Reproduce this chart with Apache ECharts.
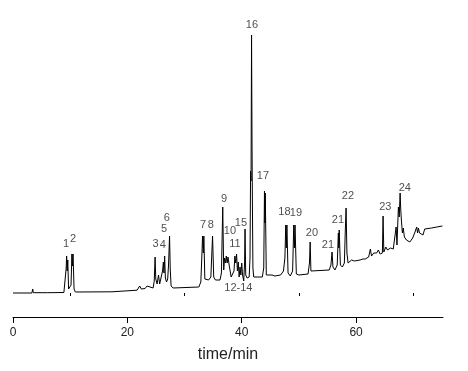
<!DOCTYPE html>
<html><head><meta charset="utf-8">
<script src="https://cdn.jsdelivr.net/npm/echarts@6/dist/echarts.min.js"></script>
<style>html,body{margin:0;padding:0;background:#fff}#c{width:468px;height:371px}</style>
</head><body><div id="c"></div>
<script>
// Retention time (min) and detector signal (arbitrary units)
const retentionTime = [
0,3.3,3.4,3.45,3.55,6.0,6.05,6.15,8.9,9.15,9.3,9.38,9.48,9.58,9.72,9.95,10.15,10.3,10.4,10.5,10.68,10.9,
17.3,17.45,21.7,21.85,22.15,22.45,23.1,23.45,23.75,24.5,24.7,24.85,24.97,25.2,25.45,25.65,25.9,26.15,26.3,26.4,26.52,26.65,26.85,27.05,27.2,27.38,27.5,27.65,28.0,
32.5,32.85,33.05,33.15,33.28,33.38,33.55,33.8,34.2,34.6,34.9,35.1,35.4,36.2,36.45,36.68,36.85,37.0,37.15,37.3,37.45,37.6,37.8,37.95,38.15,38.4,38.65,38.8,38.95,39.1,39.25,39.4,39.55,39.7,39.85,40.0,40.15,40.35,40.5,40.58,40.7,40.95,
41.3,41.45,41.55,41.63,41.72,41.8,41.88,41.96,42.1,43.6,43.85,43.98,44.06,44.12,44.3,44.6,45.3,45.5,45.8,46.8,47.3,47.55,47.7,47.8,47.9,48.1,48.5,48.9,49.1,49.22,49.32,49.55,50.0,51.6,51.85,51.97,52.1,52.4,
55.3,55.6,55.8,55.95,56.3,56.7,56.9,56.98,57.05,57.25,57.6,57.95,58.1,58.25,58.4,58.6,59.2,59.5,59.7,60.7,61.2,61.6,62.2,62.5,62.7,63.1,63.6,63.9,64.2,64.6,64.72,64.85,65.2,65.5,66.0,66.5,66.8,67.0,67.15,67.4,67.55,67.7,67.8,67.92,68.1,68.25,68.45,68.8,69.4,69.9,70.3,70.6,70.75,70.9,71.1,71.4,71.7,72.0,73.2,74.1,75.1
];
const intensity = [
0,0,-2,4,0.3,0.3,2,0.5,0.5,2,25,37,22,33,4,2,8,39,27,39,4,1,
1.2,2.3,2.8,4,7,4,4.5,7,5,5,12,36,14,9,18,9,9,22,31,20,37,15,11,14,28,57,24,7,5,
6,11,40,57,40,57,14,12,13,16,57,16,13,13,20,86,23,35,30,37,30,36,28,26,16,15,22,37,30,39,22,31,16,26,18,30,18,12,30,64,18,15,
16,35,122,112,258,150,80,25,16,16,25,102,70,100,18,16,18,20,17,18,22,35,68,45,68,20,17,22,68,45,68,19,18,19,30,51,22,20,
23,28,41,26,23,28,60,45,63,28,26,30,60,85,40,30,33,35,32,33,34,34,36,44,37,40,40,43,39,40,77,41,46,43,45,44,46,66,48,86,76,100,85,73,60,65,56,53,51,55,61,66,60,65,60,62,58,64,65,66,67
];
// Peak annotations
const peakLabels = ['1','2','3','4','5','6','7','8','9','10','11','12-14','15','16','17','18','19','20','21','21','22','23','24'];
const peakLabelTime = [9.27,10.49,24.95,26.22,26.4,26.92,33.22,34.6,36.9,37.94,38.81,39.42,39.86,41.78,43.71,47.47,49.48,52.27,55.07,56.82,58.57,65.12,68.53];
const peakLabelHeight = [49,54,49.5,48,64.5,75,68,68,94.5,62,49,5,70.5,268,117,81.5,80,60.5,48.5,73,97.5,86,105];
const majorTicks = [0,20,40,60];
const minorTicks = [10,30,50,70];
const xMin = 0, xMax = 75.2;

const chart = echarts.init(document.getElementById('c'), null, {renderer:'canvas'});
const font = 'Liberation Sans, Arial, sans-serif';
const trace = retentionTime.map((t,i)=>[t,intensity[i]]);
const labels = peakLabels.map((s,i)=>({name:s, value:[peakLabelTime[i], peakLabelHeight[i]]}));
chart.setOption({
  animation:false,
  backgroundColor:'#fff',
  grid:{left:13,right:25,top:20,bottom:54},
  xAxis:[{
    type:'value', min:xMin, max:xMax, position:'bottom',
    axisLine:{show:true,onZero:false,lineStyle:{color:'#000',width:1}},
    axisTick:{show:true,customValues:majorTicks,length:6,lineStyle:{color:'#000',width:1}},
    axisLabel:{customValues:majorTicks,margin:10,fontSize:12,color:'#222',fontFamily:font},
    splitLine:{show:false},
    name:'time/min', nameLocation:'middle', nameGap:30,
    nameTextStyle:{fontSize:16,color:'#222',fontFamily:font}
  },{
    type:'value', min:xMin, max:xMax, position:'bottom', offset:0,
    axisLine:{show:false},
    axisTick:{show:true,customValues:minorTicks,length:3,lineStyle:{color:'#000',width:1}},
    axisLabel:{show:false},
    splitLine:{show:false}
  }],
  yAxis:{type:'value',min:-24,max:273,show:false,splitLine:{show:false}},
  series:[{
    type:'line', data:trace, xAxisIndex:0, showSymbol:false, symbol:'none',
    lineStyle:{color:'#000',width:1}, silent:true
  },{
    type:'scatter', data:labels, xAxisIndex:0, symbolSize:0, silent:true, clip:false,
    label:{show:true,position:'inside',formatter:'{b}',fontSize:11,color:'#222',fontFamily:font}
  }]
});
</script></body></html>
